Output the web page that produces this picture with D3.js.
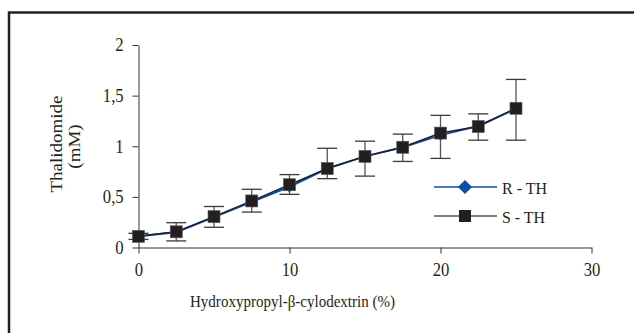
<!DOCTYPE html>
<html>
<head>
<meta charset="utf-8">
<script src="https://cdn.jsdelivr.net/npm/d3@7"></script>
<style>
  body { margin: 0; background: #fff; }
  svg text { font-family: "Liberation Serif", "Times New Roman", serif; fill: #231f20; }
</style>
</head>
<body>
<div id="chart"></div>
<script>
// Data
var cdPercent = [0, 2.5, 5, 7.5, 10, 12.5, 15, 17.5, 20, 22.5, 25];
var rTH = [0.11, 0.15, 0.30, 0.45, 0.60, 0.78, 0.90, 0.99, 1.11, 1.20, 1.37];
var sTH = [0.11, 0.155, 0.305, 0.46, 0.62, 0.78, 0.90, 0.99, 1.13, 1.195, 1.375];
var errUp = [0.03, 0.09, 0.10, 0.115, 0.10, 0.20, 0.15, 0.13, 0.175, 0.125, 0.285];
var errDown = [0.03, 0.09, 0.105, 0.11, 0.095, 0.10, 0.195, 0.14, 0.25, 0.135, 0.315];
var xTicks = [0, 10, 20, 30];
var yTicks = [0, 0.5, 1, 1.5, 2];
var seriesNames = ['R - TH', 'S - TH'];

var width = 634, height = 333;
var BLUE = '#0d4ea6', DARK = '#231f20';
var SQUEEZE = 0.9; // the original text is a bit narrow

var svg = d3.select('#chart').append('svg')
  .attr('width', width)
  .attr('height', height);

// outer frame (only top and left edges show)
svg.append('rect')
  .attr('x', 9).attr('y', 12.5)
  .attr('width', 700).attr('height', 400)
  .attr('fill', 'none')
  .attr('stroke', DARK)
  .attr('stroke-width', 2.5);

var x = d3.scaleLinear().domain([0, 30]).range([138.5, 591.5]);
var y = d3.scaleLinear().domain([0, 2]).range([247.5, 45]);

var fmt = function (d) { return String(d).replace('.', ','); };

var gx = svg.append('g')
  .attr('transform', 'translate(0,' + y(0) + ')')
  .call(d3.axisBottom(x).tickValues(xTicks).tickSize(6).tickSizeOuter(0).tickPadding(9).tickFormat(fmt));
var gy = svg.append('g')
  .attr('transform', 'translate(' + x(0) + ',0)')
  .call(d3.axisLeft(y).tickValues(yTicks).tickSize(6).tickSizeOuter(0).tickPadding(10.5).tickFormat(fmt));

[gx, gy].forEach(function (g) {
  g.select('.domain').attr('stroke', '#333');
  g.selectAll('.tick line').attr('stroke', '#333');
  g.selectAll('.tick text')
    .attr('font-size', 18.5)
    .attr('font-family', '"Liberation Serif", serif')
    .attr('fill', DARK)
    .attr('transform', 'scale(' + SQUEEZE + ',1)');
});

// axis titles
svg.append('text')
  .attr('x', 292.5).attr('y', 306.5)
  .attr('text-anchor', 'middle')
  .attr('font-size', 17.5)
  .attr('textLength', 205)
  .attr('lengthAdjust', 'spacingAndGlyphs')
  .text('Hydroxypropyl-\u03b2-cylodextrin (%)');

svg.append('text')
  .attr('transform', 'translate(62,144) rotate(-90) scale(1,' + SQUEEZE + ')')
  .attr('text-anchor', 'middle')
  .attr('font-size', 19)
  .text('Thalidomide');
svg.append('text')
  .attr('transform', 'translate(80,146.5) rotate(-90) scale(1,' + SQUEEZE + ')')
  .attr('text-anchor', 'middle')
  .attr('font-size', 19)
  .text('(mM)');

// error bars
var capW = 10;
var bars = svg.append('g').attr('stroke', '#3a3a3a').attr('stroke-width', 1.3);
cdPercent.forEach(function (c, i) {
  var cx = x(c);
  var top = y(sTH[i] + errUp[i]);
  var bot = y(sTH[i] - errDown[i]);
  bars.append('line').attr('x1', cx).attr('x2', cx).attr('y1', top).attr('y2', bot).attr('stroke', '#555');
  bars.append('line').attr('x1', cx - capW).attr('x2', cx + capW).attr('y1', top).attr('y2', top);
  bars.append('line').attr('x1', cx - capW).attr('x2', cx + capW).attr('y1', bot).attr('y2', bot);
});

var line = d3.line()
  .x(function (d) { return x(d[0]); })
  .y(function (d) { return y(d[1]); });

var rPts = cdPercent.map(function (c, i) { return [c, rTH[i]]; });
var sPts = cdPercent.map(function (c, i) { return [c, sTH[i]]; });

svg.append('path').datum(rPts)
  .attr('d', line).attr('fill', 'none')
  .attr('stroke', BLUE).attr('stroke-width', 2);
svg.selectAll('.rmark').data(rPts).enter().append('path')
  .attr('class', 'rmark')
  .attr('transform', function (d) { return 'translate(' + x(d[0]) + ',' + y(d[1]) + ') rotate(45)'; })
  .attr('d', 'M-4,-4H4V4H-4Z')
  .attr('fill', BLUE);

svg.append('path').datum(sPts)
  .attr('d', line).attr('fill', 'none')
  .attr('stroke', '#1c2230').attr('stroke-width', 1.5);
svg.selectAll('.smark').data(sPts).enter().append('rect')
  .attr('class', 'smark')
  .attr('x', function (d) { return x(d[0]) - 6; })
  .attr('y', function (d) { return y(d[1]) - 6; })
  .attr('width', 12).attr('height', 12)
  .attr('fill', DARK)
  .attr('stroke', '#555').attr('stroke-width', 0.6);

// legend
var legend = svg.append('g');
seriesNames.forEach(function (name, i) {
  var ly = 187 + i * 29;
  var g = legend.append('g');
  g.append('line').attr('x1', 434).attr('x2', 497).attr('y1', ly).attr('y2', ly)
    .attr('stroke', i === 0 ? BLUE : '#555').attr('stroke-width', 1.3);
  if (i === 0) {
    g.append('path').attr('transform', 'translate(465,' + ly + ') rotate(45)')
      .attr('d', 'M-5,-5H5V5H-5Z').attr('fill', BLUE);
  } else {
    g.append('rect').attr('x', 459).attr('y', ly - 6).attr('width', 12).attr('height', 12)
      .attr('fill', DARK);
  }
  g.append('text').attr('x', 502).attr('y', ly + 7)
    .attr('font-size', 17)
    .attr('textLength', i === 0 ? 45 : 43)
    .attr('lengthAdjust', 'spacingAndGlyphs')
    .text(name);
});
</script>
</body>
</html>
